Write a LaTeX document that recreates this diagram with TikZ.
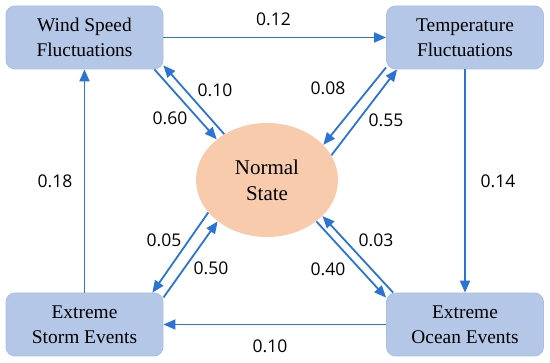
\documentclass[tikz,border=0pt]{standalone}
\usepackage{fontspec}
\setmainfont{Liberation Serif}
\newfontfamily\probfont{Open Sans}
\usetikzlibrary{arrows.meta, shapes.geometric}

\definecolor{boxfill}{HTML}{B4C7E7}
\definecolor{boxedge}{HTML}{A7BFE6}
\definecolor{normalfill}{HTML}{F8CBAD}
\definecolor{linkblue}{HTML}{2A74D6}

\begin{document}
\begin{tikzpicture}[x=1pt, y=-1pt, thick,
  state/.style={draw=boxedge, fill=boxfill, rounded corners=9pt, minimum width=157pt,
    minimum height=63pt, inner sep=0pt, align=center, font=\fontsize{19.4}{24.5}\selectfont},
  normalstate/.style={ellipse, fill=normalfill, minimum width=142pt, minimum height=114pt,
    inner sep=0pt, align=center, font=\fontsize{21}{26}\selectfont},
  link/.style={draw=linkblue, line width=1.8pt, -{Triangle[length=12pt, width=10pt]}},
  prob/.style={font=\probfont\fontsize{17.5}{20}\selectfont, inner sep=0pt}]
  \useasboundingbox (0,0) rectangle (550,363);

  % the four outer states and the normal state in the middle
  \node[state] (wind) at (84.5, 37.5) {Wind Speed\\Fluctuations};
  \node[state] (temp) at (465, 37.5) {Temperature\\Fluctuations};
  \node[state] (storm) at (84.5, 324.5) {Extreme\\Storm Events};
  \node[state] (ocean) at (465, 324.5) {Extreme\\Ocean Events};
  \node[normalstate] (normal) at (267, 180) {Normal\\State};

  % round the outside
  \draw[link] (wind) -- (temp);
  \draw[link] (temp) -- (ocean);
  \draw[link] (ocean) -- (storm);
  \draw[link] (storm) -- (wind);

  % to and from the normal state, pairs of parallel arrows
  \draw[link] ([xshift=-9pt]wind.south east) -- (normal.141);
  \draw[link] (normal.133) -- ([yshift=4pt]wind.south east);
  \draw[link] ([yshift=2pt]temp.south west) -- (normal.32);
  \draw[link] (normal.21) -- ([xshift=11pt]temp.south west);
  \draw[link] (normal.209) -- ([xshift=-11pt]storm.north east);
  \draw[link] ([yshift=-5pt]storm.north east) -- (normal.220);
  \draw[link] (normal.320) -- ([yshift=-5pt]ocean.north west);
  \draw[link] ([xshift=7pt]ocean.north west) -- (normal.327);

  % transition probabilities
  \node[prob] (p12) at (273.5, 19) {0.12};
  \node[prob] (p14) at (498, 181) {0.14};
  \node[prob] (p10b) at (270, 346) {0.10};
  \node[prob] (p18) at (55, 181) {0.18};
  \node[prob] (p60) at (170, 118) {0.60};
  \node[prob] (p10a) at (215, 90) {0.10};
  \node[prob] (p08) at (328, 88) {0.08};
  \node[prob] (p55) at (386, 120) {0.55};
  \node[prob] (p05) at (164, 240) {0.05};
  \node[prob] (p50) at (211, 268) {0.50};
  \node[prob] (p03) at (376, 240) {0.03};
  \node[prob] (p40) at (328, 269) {0.40};
\end{tikzpicture}
\end{document}
